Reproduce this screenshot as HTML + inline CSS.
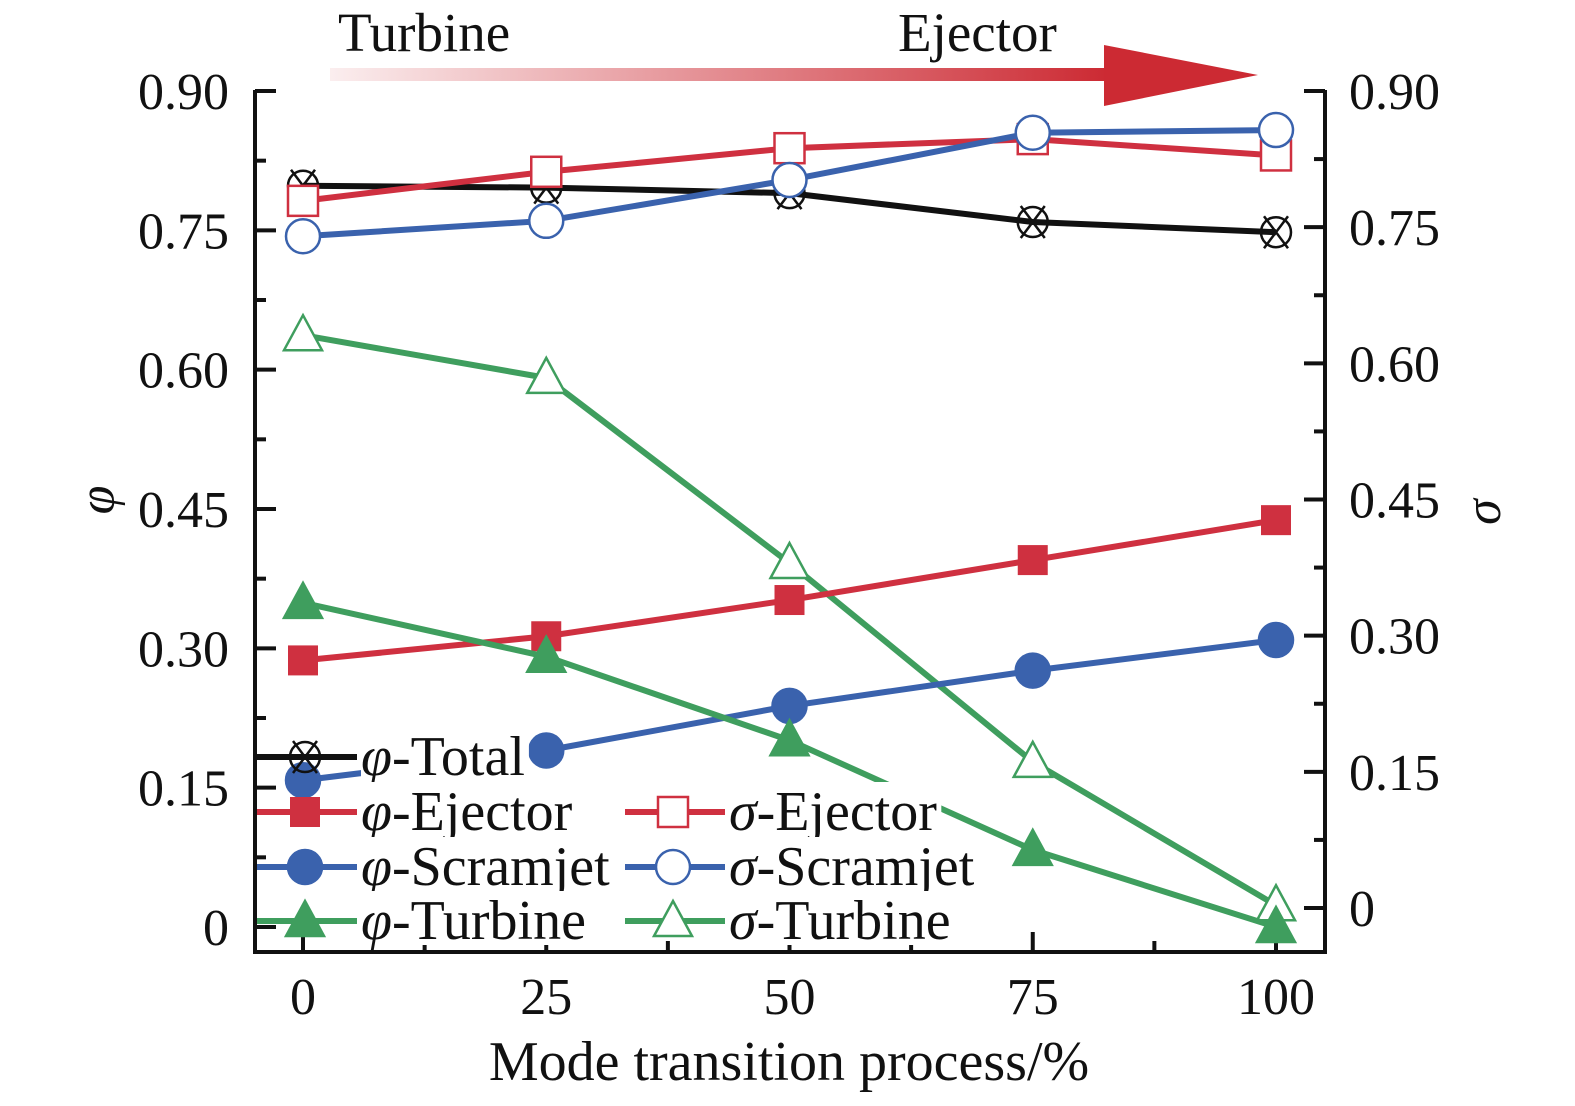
<!DOCTYPE html>
<html><head><meta charset="utf-8"><style>
body{margin:0;background:#fff}
svg{display:block}
text{font-family:"Liberation Serif",serif;fill:#111}
</style></head><body>
<svg id="c" width="1575" height="1106" viewBox="0 0 1575 1106">
<defs><linearGradient id="g" x1="0" x2="1"><stop offset="0" stop-color="#cc2a33" stop-opacity="0.08"/><stop offset="1" stop-color="#cc2a33"/></linearGradient></defs>
<g>
<rect x="330" y="68" width="778" height="13" fill="url(#g)"/>
<polygon points="1104,45 1258,75 1104,106" fill="#cc2a33"/>
</g>
<text x="338" y="51" font-size="55">Turbine</text>
<text x="898" y="51" font-size="55">Ejector</text>
<g id="axes"></g>
<g id="series"></g>
<g id="legend"></g>
<text x="0" y="0" font-size="52" font-style="italic" transform="translate(114,500) rotate(-90)" text-anchor="middle">φ</text>
<text x="0" y="0" font-size="52" font-style="italic" transform="translate(1500,512) rotate(-90)" text-anchor="middle">σ</text>
<text x="789" y="1080" font-size="56" text-anchor="middle">Mode transition process/%</text>
</svg>
<script>
const xCats=[0,25,50,75,100];
const phiTotal=[0.798,0.796,0.790,0.759,0.748];
const phiEjector=[0.287,0.313,0.352,0.395,0.438];
const phiScramjet=[0.158,0.190,0.238,0.276,0.309];
const phiTurbine=[0.349,0.291,0.201,0.083,0.0];
const sigEjector=[0.779,0.811,0.837,0.847,0.829];
const sigScramjet=[0.740,0.757,0.802,0.854,0.857];
const sigTurbine=[0.631,0.584,0.380,0.161,0.003];
const yTicks=[0,0.15,0.30,0.45,0.60,0.75,0.90];
const yTickLabels=["0","0.15","0.30","0.45","0.60","0.75","0.90"];
const xTickLabels=["0","25","50","75","100"];

const NS="http://www.w3.org/2000/svg";
const X=v=>303+v*(1276-303)/100;
const YL=v=>927-v*(927-91)/0.9;
const YR=v=>908-v*(908-91)/0.9;
function mk(tag,attrs,parent){const e=document.createElementNS(NS,tag);for(const k in attrs)e.setAttribute(k,attrs[k]);parent.appendChild(e);return e;}
const axes=document.getElementById('axes');
let e;
e=mk('line',{x1:255,y1:90,x2:255,y2:954,stroke:'#111','stroke-width':4},axes);

e=mk('line',{x1:1325,y1:90,x2:1325,y2:954,stroke:'#111','stroke-width':4},axes);

e=mk('line',{x1:253,y1:952,x2:1327,y2:952,stroke:'#111','stroke-width':4},axes);

yTicks.forEach((v,i)=>{
  mk('line',{x1:255,y1:YL(v),x2:276,y2:YL(v),stroke:'#111','stroke-width':4},axes);
  if(i<yTicks.length-1)mk('line',{x1:255,y1:YL(v+0.075),x2:266,y2:YL(v+0.075),stroke:'#111','stroke-width':4},axes);
  e=mk('text',{x:229,y:YL(v)+18,'font-size':52,'text-anchor':'end'},axes);e.textContent=yTickLabels[i];
  
  mk('line',{x1:1304,y1:YR(v),x2:1325,y2:YR(v),stroke:'#111','stroke-width':4},axes);
  if(i<yTicks.length-1)mk('line',{x1:1314,y1:YR(v+0.075),x2:1325,y2:YR(v+0.075),stroke:'#111','stroke-width':4},axes);
  e=mk('text',{x:1349,y:YR(v)+18,'font-size':52},axes);e.textContent=yTickLabels[i];
  
});
xCats.forEach((v,i)=>{
  mk('line',{x1:X(v),y1:952,x2:X(v),y2:932,stroke:'#111','stroke-width':4},axes);
  if(i<xCats.length-1)mk('line',{x1:X(v+12.5),y1:952,x2:X(v+12.5),y2:941,stroke:'#111','stroke-width':4},axes);
  e=mk('text',{x:X(v),y:1014,'font-size':52,'text-anchor':'middle'},axes);e.textContent=xTickLabels[i];
  
});
const RED='#cf3040',BLUE='#3a62ad',GREEN='#3f9e5e',BLK='#111';
function marker(g,type,col,x,y){
  const fill=type.startsWith('open')||type==='ox'?'#fff':col;
  if(type==='sq'||type==='opensq')return mk('rect',{x:x-15,y:y-15,width:30,height:30,fill:fill,stroke:col,'stroke-width':type==='sq'?0:2.5},g);
  if(type==='ci'||type==='openci')return mk('circle',{cx:x,cy:y,r:17,fill:fill,stroke:col,'stroke-width':2.5},g);
  if(type==='tr'||type==='opentr')return mk('polygon',{points:`${x},${y-20} ${x+19},${y+15} ${x-19},${y+15}`,fill:fill,stroke:col,'stroke-width':2.5},g);
  if(type==='ox'){const gg=mk('g',{},g);mk('circle',{cx:x,cy:y,r:15,fill:'none',stroke:col,'stroke-width':2.5},gg);
    mk('line',{x1:x-12,y1:y-16,x2:x+12,y2:y+16,stroke:col,'stroke-width':2.5},gg);mk('line',{x1:x+12,y1:y-16,x2:x-12,y2:y+16,stroke:col,'stroke-width':2.5},gg);return gg;}
}
const defs=[
 {name:'phi-total',data:phiTotal,Y:YL,col:BLK,m:'ox'},
 {name:'sigma-ejector',data:sigEjector,Y:YR,col:RED,m:'opensq'},
 {name:'sigma-scramjet',data:sigScramjet,Y:YR,col:BLUE,m:'openci'},
 {name:'sigma-turbine',data:sigTurbine,Y:YR,col:GREEN,m:'opentr'},
 {name:'phi-ejector',data:phiEjector,Y:YL,col:RED,m:'sq'},
 {name:'phi-scramjet',data:phiScramjet,Y:YL,col:BLUE,m:'ci'},
 {name:'phi-turbine',data:phiTurbine,Y:YL,col:GREEN,m:'tr'},
];
const sg=document.getElementById('series');
defs.forEach(d=>{
  const g=mk('g',{},sg);
  
  
  const pts=d.data.map((v,i)=>X(xCats[i])+','+d.Y(v)).join(' ');
  const l=mk('polyline',{points:pts,fill:'none',stroke:d.col,'stroke-width':6},g);
  
  
  d.data.forEach((v,i)=>{
    const m=marker(g,d.m,d.col,X(xCats[i]),d.Y(v));
    
    
  });
});
const lg=document.getElementById('legend');

const items=[
 {label:'-Total',sym:'φ',x:257,y:757,col:BLK,m:'ox'},
 {label:'-Ejector',sym:'φ',x:257,y:812,col:RED,m:'sq'},
 {label:'-Scramjet',sym:'φ',x:257,y:867,col:BLUE,m:'ci'},
 {label:'-Turbine',sym:'φ',x:257,y:921,col:GREEN,m:'tr'},
 {label:'-Ejector',sym:'σ',x:625,y:812,col:RED,m:'opensq'},
 {label:'-Scramjet',sym:'σ',x:625,y:867,col:BLUE,m:'openci'},
 {label:'-Turbine',sym:'σ',x:625,y:921,col:GREEN,m:'opentr'},
];
items.forEach(it=>{
  const g=mk('g',{},lg);
  
  
  const bg=mk('rect',{x:it.x+72,y:it.y-30,width:10,height:54,fill:'#fff'},g);
  mk('line',{x1:it.x,y1:it.y,x2:it.x+100,y2:it.y,stroke:it.col,'stroke-width':6},g);
  marker(g,it.m,it.col,it.x+48,it.y);
  const t=mk('text',{x:it.x+104,y:it.y+18,'font-size':56},g);
  const s=document.createElementNS(NS,'tspan');s.setAttribute('font-style','italic');s.textContent=it.sym;t.appendChild(s);
  t.appendChild(document.createTextNode(it.label));
  const bb=t.getBBox();
  bg.setAttribute('x',bb.x);bg.setAttribute('width',bb.width+4);
});
</script>
</body></html>
